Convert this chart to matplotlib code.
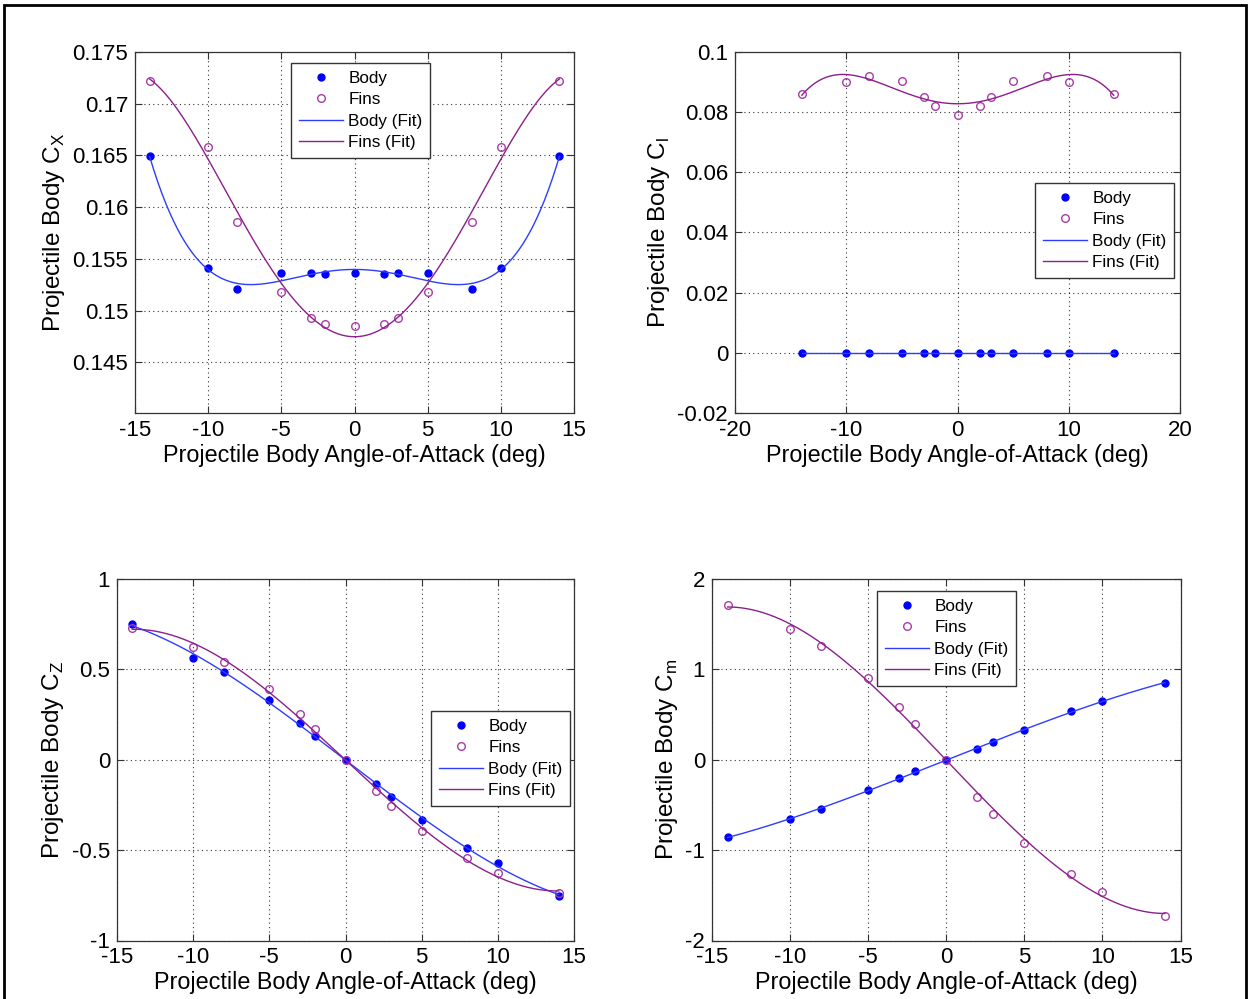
import matplotlib
matplotlib.use("Agg")
import matplotlib.pyplot as plt
import numpy as np
from matplotlib.patches import Rectangle

plt.rcParams["font.family"] = ["Liberation Sans", "DejaVu Sans"]
plt.rcParams["mathtext.fontset"] = "custom"
plt.rcParams["mathtext.rm"] = "Liberation Sans"

# angle of attack (deg)
alpha = [-14, -10, -8, -5, -3, -2, 0, 2, 3, 5, 8, 10, 14]

# axial force coefficient
cx_body = [0.1649, 0.1541, 0.1521, 0.1536, 0.1536, 0.1535, 0.1536,
           0.1535, 0.1536, 0.1536, 0.1521, 0.1541, 0.1649]
cx_fins = [0.1722, 0.1658, 0.1586, 0.1518, 0.1493, 0.1487, 0.1485,
           0.1487, 0.1493, 0.1518, 0.1586, 0.1658, 0.1722]

# roll moment coefficient
cl_body = [0.0] * 13
cl_fins = [0.0861, 0.0901, 0.0919, 0.0904, 0.0851, 0.0822, 0.0789,
           0.0822, 0.0851, 0.0904, 0.0919, 0.0901, 0.0861]

# normal force coefficient
cz_body = [0.749, 0.564, 0.486, 0.330, 0.204, 0.133, 0.0,
           -0.136, -0.208, -0.333, -0.490, -0.569, -0.753]
cz_fins = [0.731, 0.624, 0.541, 0.390, 0.252, 0.170, 0.0,
           -0.173, -0.256, -0.394, -0.543, -0.628, -0.735]

# pitch moment coefficient
cm_body = [-0.858, -0.655, -0.545, -0.335, -0.202, -0.129, 0.0,
           0.118, 0.195, 0.324, 0.541, 0.648, 0.851]
cm_fins = [1.713, 1.451, 1.256, 0.910, 0.589, 0.394, 0.0,
           -0.409, -0.600, -0.920, -1.267, -1.459, -1.724]

BODY = "#0000ff"
BODY_FIT = "#2d3dff"
FINS = "#a83ca8"
FINS_FIT = "#8c1f8c"
XLABEL = "Projectile Body Angle-of-Attack (deg)"

W, H = 1250, 999


def box(l, t, r, b):
    return [l / W, 1 - b / H, (r - l) / W, (b - t) / H]


def panel(fig, rect, body, fins, deg, ylabel, xlim, xticks, ylim, yticks, leg_xy):
    ax = fig.add_axes(rect)
    xs = np.linspace(min(alpha), max(alpha), 300)
    fb = np.polyval(np.polyfit(alpha, body, deg), xs)
    ff = np.polyval(np.polyfit(alpha, fins, deg), xs)
    ax.plot(alpha, body, "o", color=BODY, ms=5, label="Body")
    ax.plot(alpha, fins, "o", mfc="none", mec=FINS, mew=1.0, ms=5.5, label="Fins")
    ax.plot(xs, fb, "-", color=BODY_FIT, lw=1.0, label="Body (Fit)")
    ax.plot(xs, ff, "-", color=FINS_FIT, lw=1.0, label="Fins (Fit)")
    ax.set_xlim(xlim)
    ax.set_ylim(ylim)
    ax.set_xticks(xticks)
    ax.set_yticks(yticks)
    ax.set_xticklabels(["%g" % v for v in xticks])
    ax.set_yticklabels(["%g" % v for v in yticks])
    ax.tick_params(direction="in", top=True, right=True, labelsize=16, length=5,
                   width=0.8, colors="#333333", labelcolor="black", pad=5)
    for s in ax.spines.values():
        s.set_color("#333333")
        s.set_linewidth(0.9)
    ax.grid(True, ls=(0, (1, 3)), color="black", lw=0.8, alpha=0.8)
    ax.set_xlabel(XLABEL, fontsize=16.8, labelpad=2)
    ax.set_ylabel(ylabel, fontsize=17.5, labelpad=4)
    leg = ax.legend(loc="upper left", bbox_to_anchor=(leg_xy[0] / W, 1 - leg_xy[1] / H),
                    bbox_transform=fig.transFigure, fontsize=12.3, fancybox=False,
                    framealpha=1, edgecolor="#333333", borderpad=0.45,
                    labelspacing=0.38, handlelength=2.6, handletextpad=0.3,
                    borderaxespad=0)
    leg.get_frame().set_linewidth(1.0)
    return ax


fig = plt.figure(figsize=(W / 100, H / 100), dpi=100)

panel(fig, box(135, 52, 574, 413), cx_body, cx_fins, 4,
      r"Projectile Body C$_\mathregular{X}$", (-15, 15), [-15, -10, -5, 0, 5, 10, 15],
      (0.1401, 0.175), [0.145, 0.15, 0.155, 0.16, 0.165, 0.17, 0.175], (291, 63))
panel(fig, box(735, 52, 1180.5, 413), cl_body, cl_fins, 4,
      r"Projectile Body C$_\mathregular{l}$", (-20, 20), [-20, -10, 0, 10, 20],
      (-0.02, 0.1), [-0.02, 0, 0.02, 0.04, 0.06, 0.08, 0.1], (1035, 183))
panel(fig, box(117, 579, 574, 940.5), cz_body, cz_fins, 3,
      r"Projectile Body C$_\mathregular{Z}$", (-15, 15), [-15, -10, -5, 0, 5, 10, 15],
      (-1, 1), [-1, -0.5, 0, 0.5, 1], (431, 711))
panel(fig, box(712, 579, 1180.5, 940.5), cm_body, cm_fins, 3,
      r"Projectile Body C$_\mathregular{m}$", (-15, 15), [-15, -10, -5, 0, 5, 10, 15],
      (-2, 2), [-2, -1, 0, 1, 2], (877, 591))

# outer frame of the exported figure
fig.patches.append(Rectangle((4 / W, -0.01), (W - 8) / W, 1.0 - 5 / H + 0.01,
                             transform=fig.transFigure, fill=False,
                             edgecolor="black", lw=2.0))

fig.savefig("out.png", dpi=100)
